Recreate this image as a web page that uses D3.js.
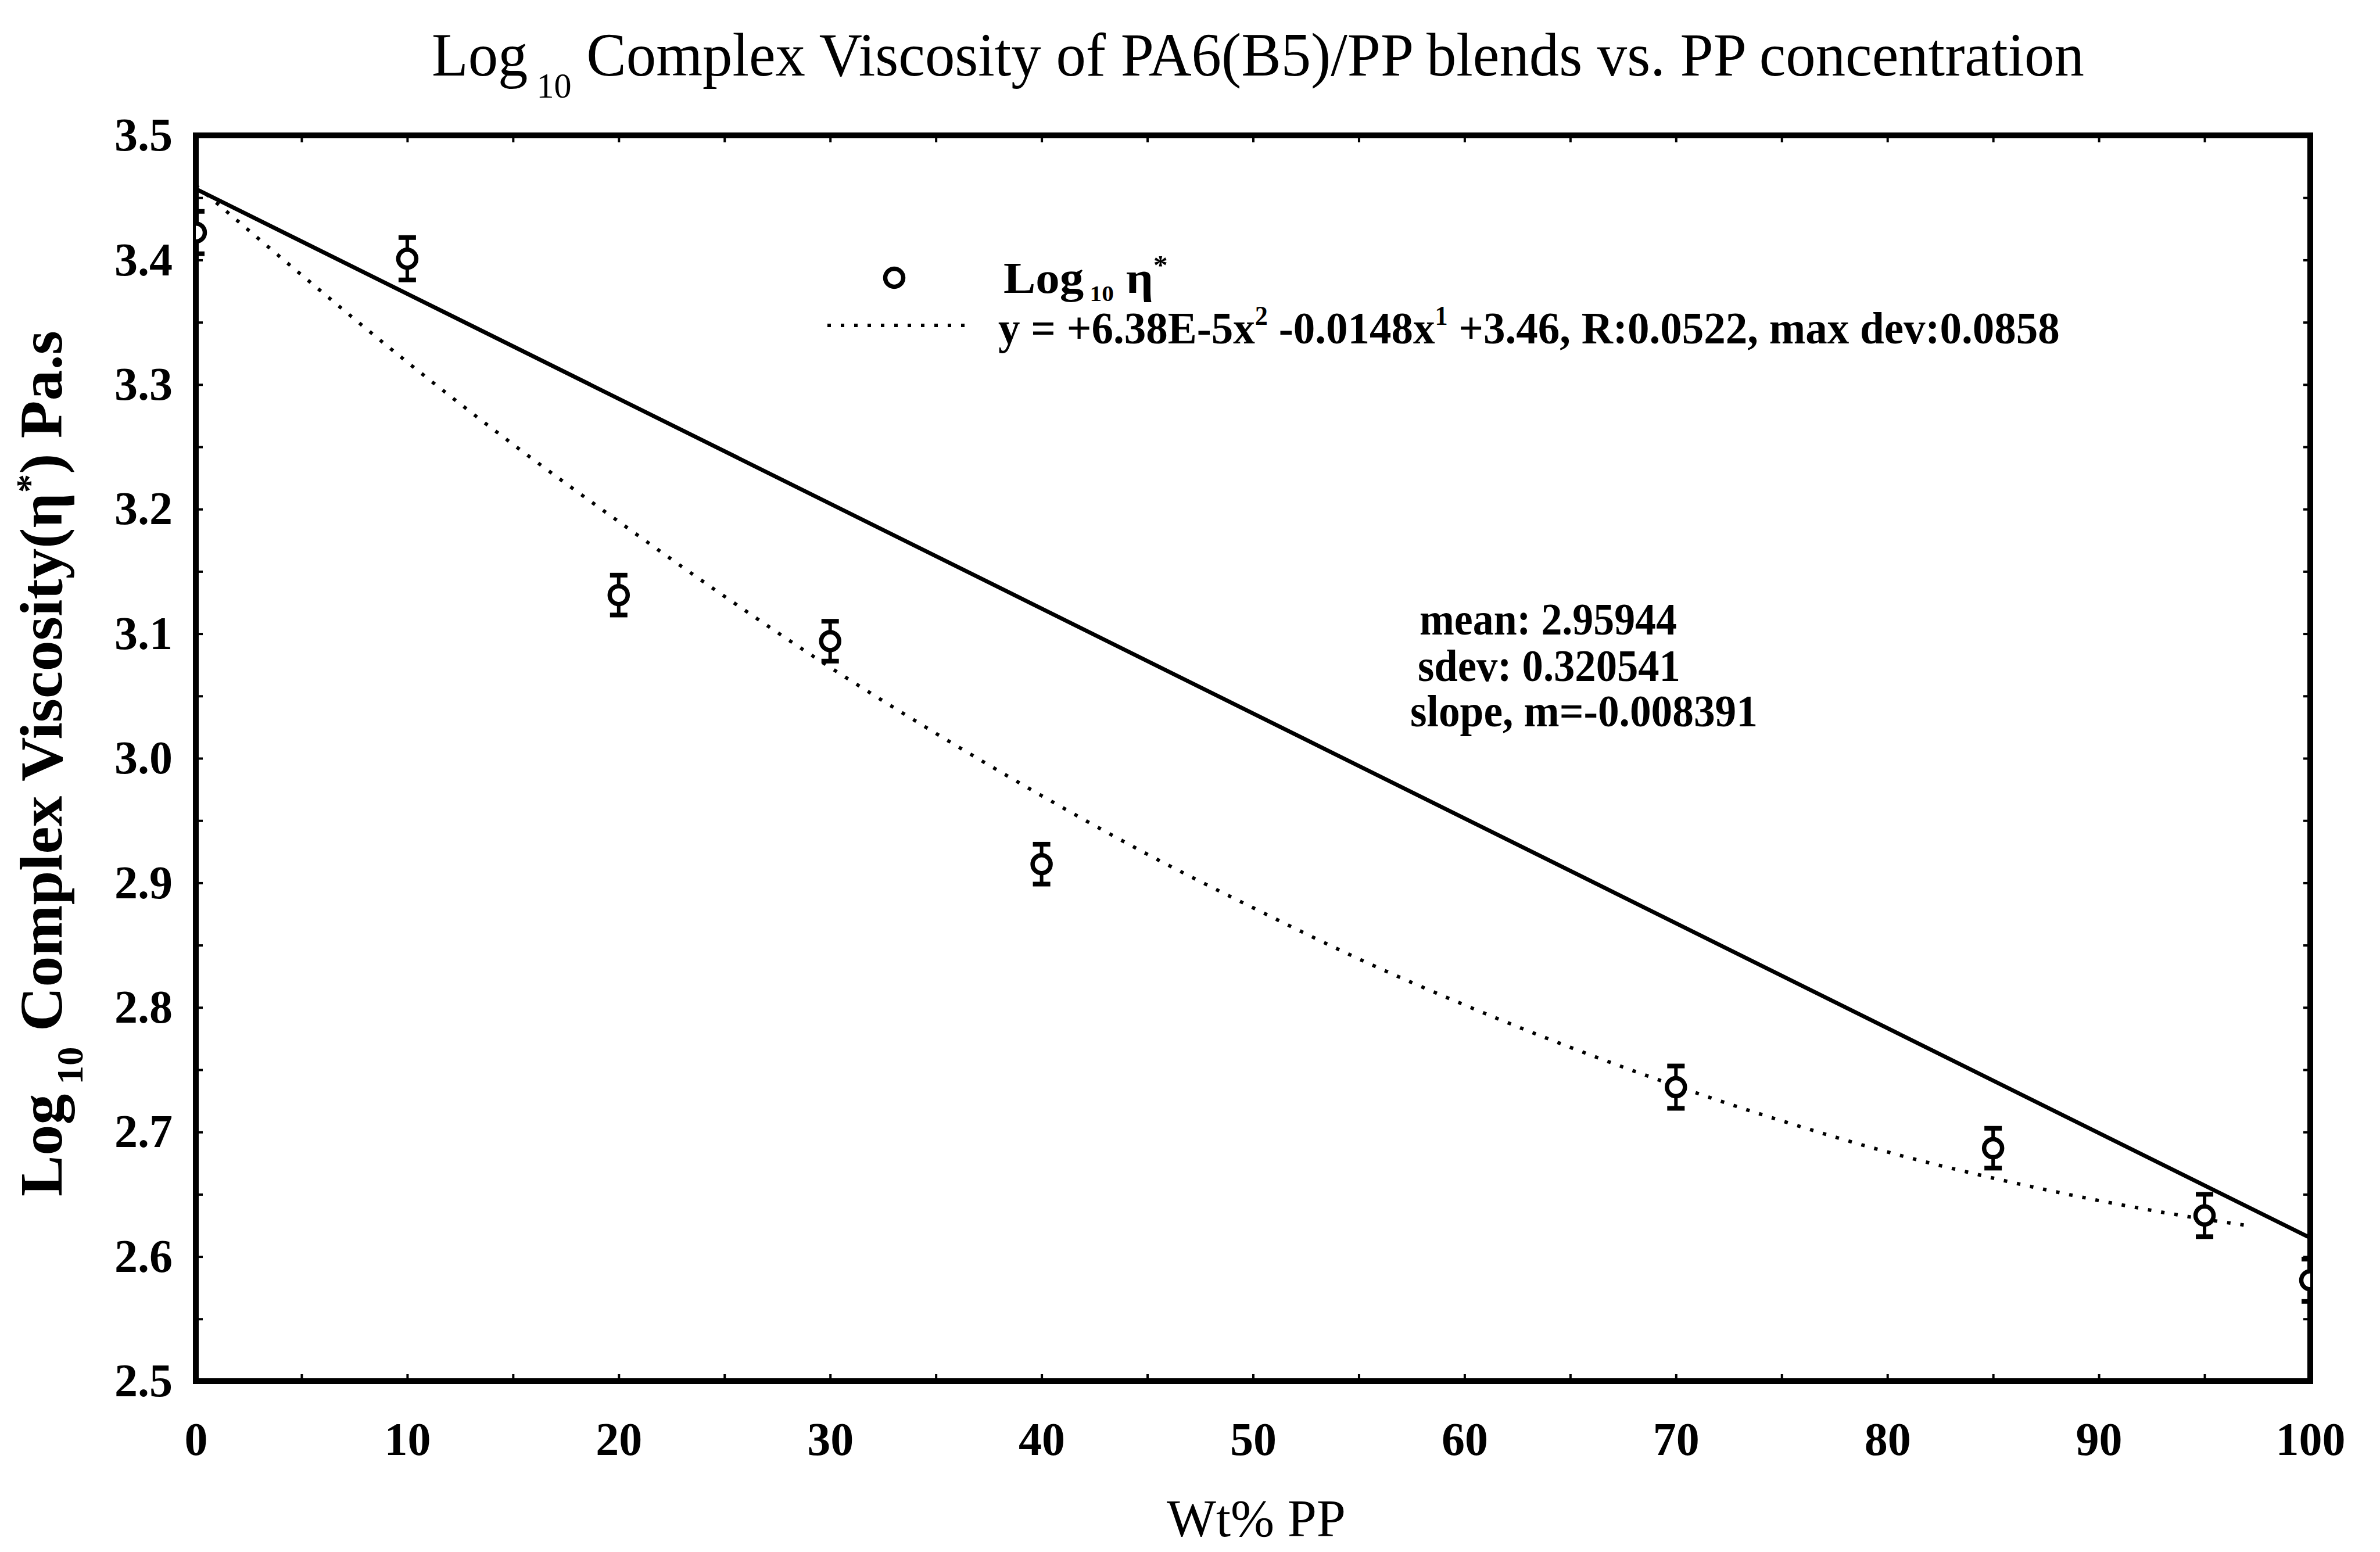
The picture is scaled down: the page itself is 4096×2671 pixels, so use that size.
<!DOCTYPE html>
<html lang="en">
<head>
<meta charset="UTF-8">
<title>Log10 Complex Viscosity of PA6(B5)/PP blends</title>
<script src="https://cdn.jsdelivr.net/npm/d3@7"></script>
<style>
    body { margin: 0; background: #fff; }
    text { font-family: "Liberation Serif", "Times New Roman", serif; fill: #000; }
</style>
</head>
<body>
<script>
    // measured points (wt% PP, log10 eta*, error bar half height)
    var wtPP = [0, 10, 20, 30, 40, 70, 85, 95, 100];
    var logEta = [3.422, 3.401, 3.131, 3.094, 2.915, 2.736, 2.687, 2.633, 2.581];
    var errBar = [0.017, 0.017, 0.016, 0.016, 0.016, 0.017, 0.016, 0.017, 0.017];

    // dotted polynomial curve
    var curveX = [0, 5, 10, 15, 20, 25, 30, 35, 40, 45, 50, 55, 60, 65, 70, 75, 80, 85, 90, 95, 97];
    var curveY = [3.460, 3.388, 3.318, 3.252, 3.190, 3.130, 3.073, 3.020, 2.970, 2.923, 2.880,
                  2.839, 2.802, 2.768, 2.737, 2.709, 2.684, 2.663, 2.645, 2.630, 2.625];

    // solid straight line, end points
    var lineX = [0, 100];
    var lineY = [3.457, 2.615];

    var xTicks = [0, 10, 20, 30, 40, 50, 60, 70, 80, 90, 100];
    var yTicks = [2.5, 2.6, 2.7, 2.8, 2.9, 3.0, 3.1, 3.2, 3.3, 3.4, 3.5];
    var xMinor = d3.range(0, 101, 5);
    var yMinor = d3.range(2.5, 3.5001, 0.05);

    var W = 4096, H = 2671;
    var m = { left: 337, right: 3976, top: 233, bottom: 2377 };

    var svg = d3.select('body').append('svg').attr('width', W).attr('height', H);
    svg.append('rect').attr('width', W).attr('height', H).attr('fill', '#fff');

    var x = d3.scaleLinear().domain([0, 100]).range([m.left, m.right]);
    var y = d3.scaleLinear().domain([2.5, 3.5]).range([m.bottom, m.top]);

    // squeeze a text group horizontally so it spans [x0, x0+width]
    function fitText(g, x0, width) {
        var b = g.node().getBBox();
        var k = width / b.width;
        g.attr('transform', 'translate(' + (x0 - b.x * k) + ',0) scale(' + k + ',1)');
    }

    svg.append('clipPath').attr('id', 'clip').append('rect')
        .attr('x', m.left).attr('y', m.top)
        .attr('width', m.right - m.left).attr('height', m.bottom - m.top);

    // tick marks pointing inward on all four sides
    var tk = 12;
    svg.append('g').attr('transform', 'translate(0,' + m.bottom + ')')
        .call(d3.axisBottom(x).tickValues(xMinor).tickSize(-tk).tickFormat(''));
    svg.append('g').attr('transform', 'translate(0,' + m.top + ')')
        .call(d3.axisTop(x).tickValues(xMinor).tickSize(-tk).tickFormat(''));
    svg.append('g').attr('transform', 'translate(' + m.left + ',0)')
        .call(d3.axisLeft(y).tickValues(yMinor).tickSize(-tk).tickFormat(''));
    svg.append('g').attr('transform', 'translate(' + m.right + ',0)')
        .call(d3.axisRight(y).tickValues(yMinor).tickSize(-tk).tickFormat(''));
    svg.selectAll('.tick line').attr('stroke', '#000').attr('stroke-width', 4);
    svg.selectAll('.domain').remove();

    // tick labels
    var xAx = svg.append('g').attr('transform', 'translate(0,' + m.bottom + ')')
        .call(d3.axisBottom(x).tickValues(xTicks).tickSize(0).tickPadding(70).tickFormat(d3.format('d')));
    var yAx = svg.append('g').attr('transform', 'translate(' + m.left + ',0)')
        .call(d3.axisLeft(y).tickValues(yTicks).tickSize(0).tickPadding(40).tickFormat(d3.format('.1f')));
    [xAx, yAx].forEach(function (a) {
        a.select('.domain').remove();
        a.selectAll('text').attr('font-family', '"Liberation Serif", serif')
            .attr('font-size', 80).attr('font-weight', 'bold').attr('fill', '#000');
    });

    // frame
    svg.append('rect').attr('x', m.left).attr('y', m.top)
        .attr('width', m.right - m.left).attr('height', m.bottom - m.top)
        .attr('fill', 'none').attr('stroke', '#000').attr('stroke-width', 10);

    var area = svg.append('g').attr('clip-path', 'url(#clip)');

    // solid line
    area.append('path').datum(d3.zip(lineX, lineY))
        .attr('d', d3.line().x(function (d) { return x(d[0]); }).y(function (d) { return y(d[1]); }))
        .attr('fill', 'none').attr('stroke', '#000').attr('stroke-width', 7);

    // dotted curve
    area.append('path').datum(d3.zip(curveX, curveY))
        .attr('d', d3.line().curve(d3.curveMonotoneX)
            .x(function (d) { return x(d[0]); }).y(function (d) { return y(d[1]); }))
        .attr('fill', 'none').attr('stroke', '#000').attr('stroke-width', 6)
        .attr('stroke-dasharray', '6 17');

    // points with error bars
    var pts = area.selectAll('.pt').data(d3.range(wtPP.length)).enter().append('g').attr('class', 'pt');
    pts.append('line')
        .attr('x1', function (i) { return x(wtPP[i]); }).attr('x2', function (i) { return x(wtPP[i]); })
        .attr('y1', function (i) { return y(logEta[i] + errBar[i]); })
        .attr('y2', function (i) { return y(logEta[i] - errBar[i]); })
        .attr('stroke', '#000').attr('stroke-width', 6);
    [1, -1].forEach(function (sgn) {
        pts.append('line')
            .attr('x1', function (i) { return x(wtPP[i]) - 15; }).attr('x2', function (i) { return x(wtPP[i]) + 15; })
            .attr('y1', function (i) { return y(logEta[i] + sgn * errBar[i]); })
            .attr('y2', function (i) { return y(logEta[i] + sgn * errBar[i]); })
            .attr('stroke', '#000').attr('stroke-width', 8);
    });
    pts.append('circle')
        .attr('cx', function (i) { return x(wtPP[i]); }).attr('cy', function (i) { return y(logEta[i]); })
        .attr('r', 15.5).attr('fill', '#fff').attr('stroke', '#000').attr('stroke-width', 7.5);

    // title
    var tg = svg.append('g');
    var tt = tg.append('text').attr('y', 130).attr('font-size', 106);
    tt.append('tspan').text('Log');
    tt.append('tspan').attr('font-size', 62).attr('dy', 38).text(' 10');
    tt.append('tspan').attr('dy', -38).text(' Complex Viscosity of PA6(B5)/PP blends vs. PP concentration');
    fitText(tg, 743, 2844);

    // x axis title
    var xg = svg.append('g');
    xg.append('text').attr('y', 2644).attr('font-size', 92).text('Wt% PP');
    fitText(xg, 2008, 308);

    // y axis title (rotated)
    var yg = svg.append('g').attr('transform', 'translate(106,2059) rotate(-90)');
    var yi = yg.append('g');
    var yt = yi.append('text').attr('y', 0).attr('font-size', 104).attr('font-weight', 'bold');
    yt.append('tspan').text('Log');
    yt.append('tspan').attr('font-size', 64).attr('dy', 36).text(' 10');
    yt.append('tspan').attr('dy', -36).text('  Complex  Viscosity(η');
    yt.append('tspan').attr('font-size', 64).attr('dy', -34).text('*');
    yt.append('tspan').attr('dy', 34).text(')  Pa.s');
    fitText(yi, 0, 1490);

    // legend
    svg.append('circle').attr('cx', 1539).attr('cy', 478).attr('r', 15.5)
        .attr('fill', '#fff').attr('stroke', '#000').attr('stroke-width', 7.5);
    svg.append('line').attr('x1', 1424).attr('x2', 1664).attr('y1', 560).attr('y2', 560)
        .attr('stroke', '#000').attr('stroke-width', 6).attr('stroke-dasharray', '6 17');

    var lg = svg.append('g');
    var lt = lg.append('text').attr('y', 504).attr('font-size', 76).attr('font-weight', 'bold');
    lt.append('tspan').text('Log');
    lt.append('tspan').attr('font-size', 38).attr('dy', 14).text(' 10');
    lt.append('tspan').attr('dy', -14).text(' η');
    lt.append('tspan').attr('font-size', 46).attr('dy', -32).text('*');
    fitText(lg, 1727, 283);

    var eg = svg.append('g');
    var et = eg.append('text').attr('y', 591).attr('font-size', 78).attr('font-weight', 'bold');
    et.append('tspan').text('y = +6.38E-5x');
    et.append('tspan').attr('font-size', 46).attr('dy', -32).text('2');
    et.append('tspan').attr('dy', 32).text(' -0.0148x');
    et.append('tspan').attr('font-size', 46).attr('dy', -32).text('1');
    et.append('tspan').attr('dy', 32).text(' +3.46, R:0.0522, max dev:0.0858');
    fitText(eg, 1718, 1827);

    // statistics block
    var stats = [
        { t: 'mean: 2.95944', x: 2443, y: 1092, w: 443 },
        { t: 'sdev: 0.320541', x: 2440, y: 1172, w: 452 },
        { t: 'slope, m=-0.008391', x: 2427, y: 1250, w: 598 }
    ];
    stats.forEach(function (s) {
        var g = svg.append('g');
        g.append('text').attr('y', s.y).attr('font-size', 78).attr('font-weight', 'bold').text(s.t);
        fitText(g, s.x, s.w);
    });
</script>
</body>
</html>
